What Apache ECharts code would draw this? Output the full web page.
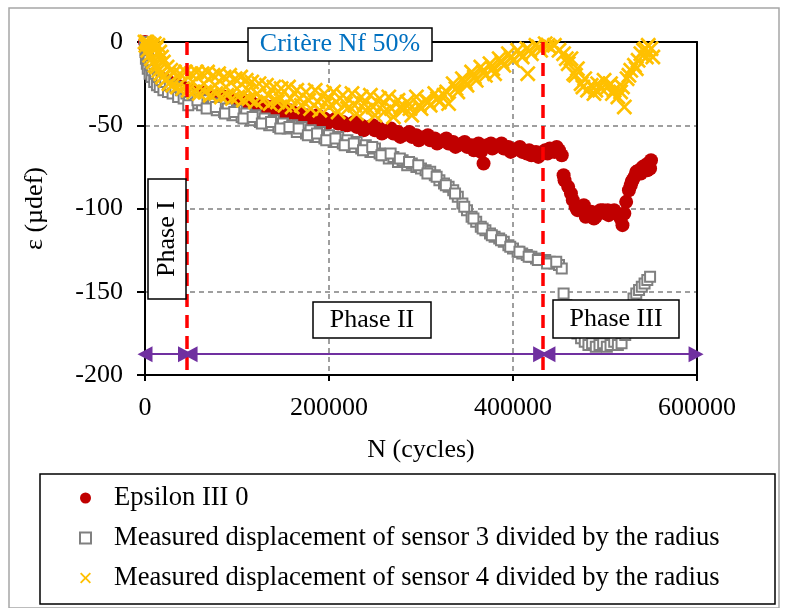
<!DOCTYPE html>
<html>
<head>
<meta charset="utf-8">
<script src="https://cdn.jsdelivr.net/npm/echarts@6/dist/echarts.min.js"></script>
<style>
  html, body { margin: 0; padding: 0; background: #fff; }
  #chart { width: 787px; height: 608px; }
</style>
</head>
<body>
<div id="chart"></div>
<script>
const FONT = "Liberation Serif";

// Epsilon III 0 : [N (cycles), strain (µdef)]
const epsilonIII0 = [
  [0, 0], [1000, -4], [2000, -8], [3000, -11], [5000, -14], [7000, -17], [9000, -19],
  [12000, -20], [15000, -21], [18000, -22], [22000, -23], [26000, -24], [30000, -25],
  [35000, -26], [40000, -27], [45000, -28], [50000, -29], [55000, -30], [60000, -30],
  [65000, -31], [70000, -32], [75000, -33], [80000, -33], [85000, -34], [90000, -34],
  [95000, -35], [100000, -35], [105000, -36], [110000, -37], [115000, -36], [120000, -38],
  [125000, -39], [130000, -38], [135000, -40], [140000, -41], [145000, -40], [150000, -42],
  [155000, -43], [160000, -42], [165000, -44], [170000, -45], [175000, -44], [180000, -46],
  [185000, -45], [190000, -47], [195000, -46], [200000, -48], [205000, -47], [210000, -49],
  [215000, -48], [220000, -50], [225000, -49], [230000, -51], [235000, -50], [240000, -52],
  [245000, -51], [250000, -53], [255000, -52], [260000, -54], [265000, -53], [270000, -55],
  [275000, -54], [280000, -56], [285000, -55], [290000, -57], [295000, -56], [300000, -58],
  [305000, -57], [310000, -59], [315000, -58], [320000, -60], [325000, -59], [330000, -61],
  [335000, -60], [340000, -62], [345000, -61], [350000, -63], [355000, -62], [360000, -64],
  [365000, -66], [368000, -73], [372000, -62], [376000, -61], [380000, -63], [385000, -62],
  [390000, -64], [395000, -63], [400000, -65], [405000, -64], [410000, -66], [415000, -67],
  [420000, -68], [425000, -66], [430000, -67], [435000, -65], [440000, -64], [445000, -66],
  [450000, -65], [453000, -68],
  [47500, -29], [57500, -32], [67500, -31], [77500, -34], [87500, -33], [97500, -36],
  [107500, -35], [117500, -39], [127500, -37], [137500, -39], [147500, -43], [157500, -41],
  [167500, -43], [177500, -47], [187500, -44], [197500, -49], [207500, -46], [217500, -50],
  [227500, -48], [237500, -53], [247500, -50], [257500, -55], [267500, -52], [277500, -57],
  [287500, -54], [297500, -59], [307500, -56], [317500, -61], [327500, -58], [337500, -63],
  [347500, -60], [357500, -65], [362500, -61], [377500, -64], [387500, -61], [397500, -66],
  [407500, -63], [417500, -65], [427500, -69], [437500, -67], [447500, -63],
  [455000, -80], [460000, -87], [463000, -91], [465000, -95], [470000, -101], [474000, -99],
  [477000, -98], [480000, -103], [482000, -104], [485000, -102], [488000, -106], [492000, -103],
  [495000, -101], [498000, -101], [501000, -103], [504000, -104], [507000, -102], [510000, -101],
  [513000, -103], [515000, -104], [517000, -106], [519000, -110], [523000, -96], [526000, -89],
  [528000, -86], [530000, -83], [532000, -81], [534000, -78], [537000, -77], [541000, -75],
  [544000, -74], [547000, -73], [550000, -71], [549000, -76],
  [456000, -83], [468000, -99], [479000, -105], [490000, -105], [503000, -101], [521000, -103],
  [529000, -84], [539000, -79], [546000, -77]
];

// sensor 3 displacement / radius
const sensor3 = [
  [0, 0], [500, -6], [1000, -10], [1500, -4], [2000, -13], [3000, -8], [3000, -16],
  [4000, -11], [5000, -19], [6000, -14], [7000, -21], [8000, -17], [10000, -24], [11000, -19],
  [13000, -26], [14000, -21], [16000, -27], [18000, -23], [20000, -29], [22000, -24],
  [25000, -30], [27000, -26], [30000, -31], [33000, -27], [36000, -33], [39000, -29],
  [42000, -34], [45000, -31], [48000, -36], [52000, -32], [55000, -37], [58000, -34],
  [62000, -38], [66000, -35], [70000, -39], [74000, -37], [78000, -41], [82000, -38],
  [86000, -42], [90000, -40], [95000, -44], [100000, -41], [105000, -45], [110000, -43],
  [115000, -47], [120000, -44], [125000, -48], [130000, -46], [135000, -50], [140000, -47],
  [145000, -51], [150000, -49], [155000, -52], [160000, -50], [165000, -54], [170000, -51],
  [175000, -55], [180000, -53], [185000, -57], [190000, -54], [195000, -58], [200000, -56],
  [205000, -60], [210000, -57], [215000, -61], [220000, -59], [225000, -63], [230000, -60],
  [235000, -64], [240000, -62], [245000, -66], [250000, -64], [255000, -67], [260000, -68],
  [265000, -70], [270000, -69], [275000, -72], [280000, -71], [285000, -74], [290000, -73],
  [295000, -75], [300000, -76], [305000, -77], [310000, -78], [315000, -80], [320000, -83],
  [325000, -85], [330000, -87], [335000, -89], [340000, -93], [345000, -97], [350000, -101],
  [355000, -105], [360000, -108], [365000, -111], [370000, -113], [375000, -115], [380000, -117],
  [385000, -118], [390000, -120], [395000, -122], [400000, -124], [405000, -126], [410000, -127],
  [415000, -128], [420000, -129], [425000, -130], [430000, -131], [435000, -131], [440000, -132],
  [445000, -133], [450000, -134], [453000, -136],
  [47000, -38], [57000, -35], [67000, -40], [77000, -39], [87000, -43], [97000, -42],
  [107000, -46], [117000, -45], [127000, -49], [137000, -48], [147000, -52], [157000, -51],
  [167000, -52], [177000, -56], [187000, -55], [197000, -59], [207000, -58], [217000, -62],
  [227000, -61], [237000, -65], [247000, -63], [257000, -68], [267000, -67], [277000, -70],
  [287000, -72], [297000, -74], [307000, -79], [317000, -81], [327000, -86], [337000, -91],
  [347000, -99], [357000, -106], [367000, -112], [377000, -116], [387000, -119], [397000, -123],
  [407000, -126], [417000, -129], [427000, -131], [437000, -133], [447000, -132],
  [455000, -151], [458000, -158], [462000, -164], [466000, -170], [470000, -175], [474000, -178],
  [478000, -180], [482000, -182], [486000, -181], [490000, -183], [494000, -182], [498000, -181],
  [502000, -183], [506000, -182], [510000, -180], [514000, -182], [518000, -181], [522000, -176],
  [525000, -168], [528000, -160], [531000, -154], [534000, -151], [537000, -149], [540000, -147],
  [543000, -145], [546000, -143], [549000, -141]
];

// sensor 4 displacement / radius
const sensor4 = [
  [0, 0], [1000, -2], [2000, 0], [3000, -5], [4000, -1], [5000, -8], [6000, -2], [7000, -10],
  [8000, -3], [9000, -12], [10000, -1], [11000, -14], [12000, -4], [13000, -15], [14000, -2],
  [15000, -17], [16000, -6], [17000, -19], [18000, -9], [19000, -21], [20000, -12], [22000, -23],
  [24000, -15], [26000, -25], [28000, -17], [30000, -26], [32000, -18], [35000, -27], [38000, -19],
  [41000, -28], [44000, -18], [47000, -29], [50000, -19], [53000, -30], [56000, -18], [59000, -31],
  [62000, -19], [65000, -30], [68000, -18], [71000, -32], [74000, -20], [77000, -31], [80000, -19],
  [83000, -33], [86000, -21], [89000, -32], [92000, -20], [95000, -34], [98000, -22], [101000, -33],
  [104000, -21], [107000, -35], [110000, -23], [113000, -34], [116000, -24], [120000, -36],
  [124000, -25], [128000, -35], [132000, -26], [136000, -37], [140000, -27], [144000, -36],
  [148000, -28], [152000, -38], [156000, -27], [160000, -39], [165000, -29], [170000, -38],
  [175000, -30], [180000, -40], [185000, -29], [190000, -41], [195000, -31], [200000, -39],
  [205000, -30], [210000, -42], [215000, -32], [220000, -40], [225000, -31], [230000, -43],
  [235000, -33], [240000, -41], [245000, -32], [250000, -44], [255000, -34], [260000, -42],
  [265000, -33], [270000, -45], [275000, -35], [280000, -41], [285000, -36], [290000, -44],
  [295000, -33], [300000, -40], [305000, -35], [310000, -38], [315000, -31], [320000, -36],
  [325000, -32], [330000, -37], [335000, -25], [340000, -30], [345000, -22], [350000, -26],
  [355000, -18], [360000, -23], [365000, -15], [370000, -20], [375000, -13], [380000, -19],
  [385000, -10], [390000, -14], [395000, -7], [400000, -11], [405000, -5], [410000, -9],
  [415000, -4], [416000, -19], [420000, -7], [425000, -2], [430000, -5], [435000, -1],
  [440000, -3], [445000, -2], [450000, -5], [455000, -7], [460000, -13], [463000, -10],
  [466000, -19], [470000, -16], [474000, -25], [478000, -22], [481000, -29], [485000, -26],
  [488000, -31], [492000, -25], [496000, -28], [499000, -23], [503000, -27], [506000, -25],
  [510000, -29], [514000, -33], [517000, -30], [521000, -39], [519000, -27], [524000, -22],
  [528000, -17], [532000, -14], [536000, -11], [539000, -7], [542000, -5], [545000, -9],
  [547000, -2], [550000, -4], [552000, -9],
  [52000, -24], [64000, -25], [76000, -26], [88000, -27], [100000, -28], [112000, -29],
  [122000, -31], [134000, -32], [146000, -33], [158000, -34], [168000, -34], [178000, -35],
  [188000, -36], [198000, -35], [208000, -36], [218000, -37], [228000, -38], [238000, -37],
  [248000, -39], [258000, -38], [268000, -40], [278000, -39], [288000, -40], [298000, -38],
  [308000, -36], [318000, -34], [328000, -30], [338000, -28], [348000, -24], [358000, -21],
  [368000, -18], [378000, -16], [388000, -12], [398000, -9], [408000, -7], [418000, -5],
  [428000, -3], [438000, -2], [458000, -10], [468000, -20], [476000, -27], [490000, -29],
  [508000, -31], [526000, -20], [534000, -16], [544000, -4]
];

const seriesNames = [
  "Epsilon III 0",
  "Measured displacement of sensor 3 divided by the radius",
  "Measured displacement of sensor 4 divided by the radius"
];
const phaseBounds = [45000, 432000];
const arrowSpans = [[0, 44000], [49000, 430000], [438000, 599000]];
const arrowLevel = -187.5;

const CROSS = "path://M0,1.2L1.2,0L5,3.8L8.8,0L10,1.2L6.2,5L10,8.8L8.8,10L5,6.2L1.2,10L0,8.8L3.8,5Z";

function boxedText(x, y, w, h, text, color, rotate) {
  return {
    type: "group",
    z: 100,
    children: [
      {
        type: "rect",
        z: 100,
        shape: { x: x, y: y, width: w, height: h },
        style: { fill: "#fff", stroke: "#000", lineWidth: 1.5 },
      },
      {
        type: "text",
        z: 101,
        x: x + w / 2,
        y: y + h / 2,
        rotation: rotate ? Math.PI / 2 : 0,
        style: {
          text: text,
          fill: color,
          font: `26px '${FONT}'`,
          align: "center",
          verticalAlign: "middle",
        },
      },
    ],
  };
}

const chart = echarts.init(document.getElementById("chart"));
const option = {
  animation: false,
  backgroundColor: "#fff",
  textStyle: { fontFamily: FONT },
  grid: { left: 145, top: 42, right: 90, bottom: 233 },
  legend: {
    orient: "vertical",
    left: 74,
    top: 478,
    itemWidth: 11,
    itemHeight: 11,
    itemGap: 10,
    data: seriesNames,
    textStyle: {
      fontFamily: FONT,
      fontSize: 26.6,
      color: "#000",
      padding: [0, 0, 0, 18],
      lineHeight: 30,
    },
  },
  xAxis: [
    {
      type: "value",
      min: 0,
      max: 600000,
      interval: 200000,
      name: "N (cycles)",
      nameLocation: "middle",
      nameGap: 62,
      nameTextStyle: { fontFamily: FONT, fontSize: 26, color: "#000" },
      axisLine: { onZero: false, lineStyle: { color: "#000", width: 2 } },
      axisTick: { show: true, length: 6, lineStyle: { color: "#000", width: 2 } },
      axisLabel: {
        fontFamily: FONT,
        fontSize: 26,
        color: "#000",
        margin: 20,
        formatter: (v) => String(v),
      },
      splitLine: { show: true, lineStyle: { color: "#808080", width: 1.5, type: [5, 4] } },
    },
    {
      type: "value",
      position: "top",
      min: 0,
      max: 600000,
      axisLine: { onZero: false, lineStyle: { color: "#000", width: 2 } },
      axisTick: { show: false },
      axisLabel: { show: false },
      splitLine: { show: false },
    },
  ],
  yAxis: [
    {
      type: "value",
      min: -200,
      max: 0,
      interval: 50,
      name: "ε (µdef)",
      nameLocation: "middle",
      nameGap: 97,
      nameRotate: 90,
      nameTextStyle: { fontFamily: FONT, fontSize: 26, color: "#000" },
      axisLine: { onZero: false, lineStyle: { color: "#000", width: 2 } },
      axisTick: { show: true, length: 8, lineStyle: { color: "#000", width: 2 } },
      axisLabel: { fontFamily: FONT, fontSize: 26, color: "#000", margin: 22 },
      splitLine: { show: true, lineStyle: { color: "#808080", width: 1.5, type: [5, 4] } },
    },
    {
      type: "value",
      position: "right",
      min: -200,
      max: 0,
      axisLine: { show: true, onZero: false, lineStyle: { color: "#000", width: 2 } },
      axisTick: { show: false },
      axisLabel: { show: false },
      splitLine: { show: false },
    },
  ],
  series: [
    {
      name: seriesNames[0],
      type: "scatter",
      data: epsilonIII0,
      symbol: "circle",
      symbolSize: 14,
      itemStyle: { color: "#C00000", opacity: 1 },
      z: 2,
    },
    {
      name: seriesNames[1],
      type: "scatter",
      data: sensor3,
      symbol: "rect",
      symbolSize: 10,
      itemStyle: { color: "#fff", borderColor: "#808080", borderWidth: 2, opacity: 1 },
      z: 3,
    },
    {
      name: seriesNames[2],
      type: "scatter",
      data: sensor4,
      symbol: CROSS,
      symbolSize: 16,
      itemStyle: { color: "#FFC000", opacity: 1 },
      z: 4,
    },
    {
      name: "phases",
      type: "line",
      data: [],
      z: 5,
      markLine: {
        silent: true,
        symbol: ["none", "none"],
        label: { show: false },
        lineStyle: { color: "#FF0000", width: 3.5, type: [13, 8] },
        data: phaseBounds.map((n) => [
          { coord: [n, 0] },
          { coord: [n, -200] },
        ]),
      },
    },
    {
      name: "arrows",
      type: "line",
      data: [],
      z: 6,
      markLine: {
        silent: true,
        symbol: ["triangle", "triangle"],
        symbolSize: [16, 15],
        label: { show: false },
        lineStyle: { color: "#7030A0", width: 2, type: "solid" },
        data: arrowSpans.map((s) => [
          { coord: [s[0], arrowLevel] },
          { coord: [s[1], arrowLevel] },
        ]),
      },
    },
  ],
  graphic: [
    {
      type: "rect",
      z: 0,
      silent: true,
      shape: { x: 9, y: 8, width: 770, height: 600 },
      style: { fill: "none", stroke: "#A6A6A6", lineWidth: 1.5 },
    },
    {
      type: "rect",
      z: 0,
      silent: true,
      shape: { x: 40, y: 474, width: 735, height: 130 },
      style: { fill: "none", stroke: "#000", lineWidth: 1.5 },
    },
    boxedText(248, 28, 184, 33, "Critère Nf 50%", "#0070C0", false),
    boxedText(148, 179, 38, 120, "Phase I", "#000", true),
    boxedText(313, 302, 118, 36, "Phase II", "#000", false),
    boxedText(553, 300, 126, 38, "Phase III", "#000", false),
  ],
};
chart.setOption(option);
</script>
</body>
</html>
